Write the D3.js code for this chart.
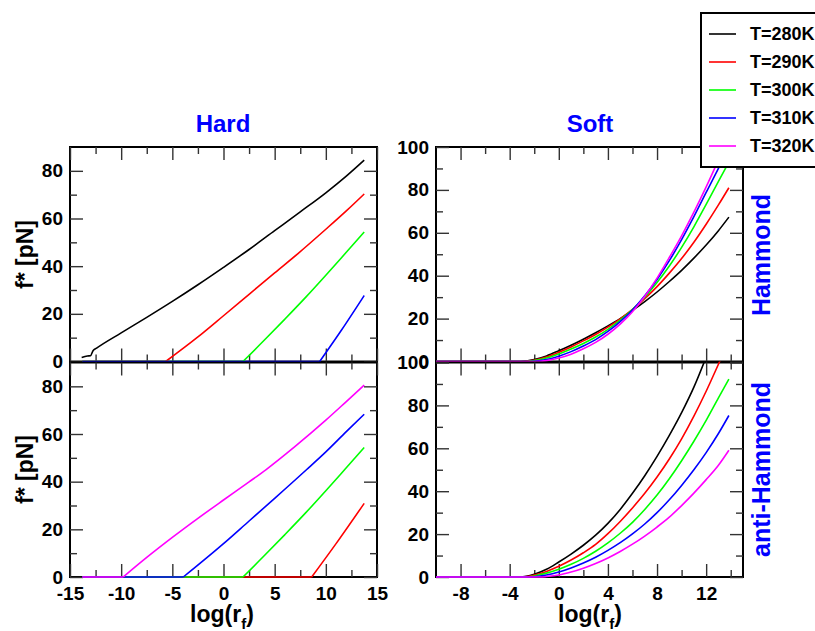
<!DOCTYPE html>
<html>
<head>
<meta charset="utf-8">
<script src="https://cdn.jsdelivr.net/npm/d3@7"></script>
<style>
  body { margin: 0; background: #fff; }
  svg { display: block; }
  text { font-family: "Liberation Sans", Arial, Helvetica, sans-serif; font-weight: bold; }
</style>
</head>
<body>
<svg id="chart" width="815" height="631"></svg>
<script>
// Temperatures shown in the legend and their line colours
const temperatures = ["T=280K", "T=290K", "T=300K", "T=310K", "T=320K"];
const colors = ["#000000", "#ff0000", "#00ff00", "#0000ff", "#ff00ff"];

// Tick values
const hardXTicks = [-15, -10, -5, 0, 5, 10, 15];
const hardXMinor = [-12.5, -7.5, -2.5, 2.5, 7.5, 12.5];
const hardYTicks = [0, 20, 40, 60, 80];
const hardYMinor = [10, 30, 50, 70];
const softXTicks = [-8, -4, 0, 4, 8, 12];
const softXMinor = [-6, -2, 2, 6, 10, 14];
const softYTicks = [0, 20, 40, 60, 80, 100];
const softYMinor = [10, 30, 50, 70, 90];

// Rupture force f* [pN] against log(r_f), one array of [log r_f, f*] per temperature
// Hard potential, Hammond behaviour
const hardHam280 = [[-13.86,1.7],[-13.3,2.3],[-13.0,2.4],[-12.75,4.5],[-12.4,5.6],[-10,12],[-7.5,18.5],[-5,25.2],[-2.5,32.2],[0,39.5],[2.5,47],[5,54.9],[7.5,62.8],[10,70.8],[12,77.8],[13.75,84.5]];
const hardHam290 = [[-13.8,0],[-5.65,0],[-2.5,10.3],[0,19.2],[2.5,28.2],[5,37.2],[7.25,45.2],[10,55.5],[12,63.2],[13.75,70.3]];
const hardHam300 = [[-13.8,0],[1.9,0],[4,9],[6,17.8],[8,26.8],[10,36.2],[11.87,45.2],[13.75,54.3]];
const hardHam310 = [[-13.8,0],[9.4,0],[11.5,13.0],[13.75,27.7]];

// Hard potential, anti-Hammond behaviour
const hardAnti290 = [[-13.8,0],[8.62,0],[11,14.0],[13.75,30.9]];
const hardAnti300 = [[-13.8,0],[1.9,0],[4,9],[6,17.8],[8,26.8],[10,36.2],[11.87,45.2],[13.75,54.3]];
const hardAnti310 = [[-13.8,0],[-3.93,0],[0,14],[2.5,23.5],[5,33],[8.13,45.1],[10,52.5],[12,61],[13.75,68.3]];
const hardAnti320 = [[-13.8,0],[-9.8,0],[-7.5,8.2],[-5,16.6],[-2.5,24.6],[0,32.3],[2.5,39.9],[4.2,45.2],[7,54.8],[10,65.8],[12,73.6],[13.75,80.5]];

// Soft potential, Hammond behaviour
const softHam280 = [[-10,0],[-3.1,0],[-2,0.9],[-1,2.6],[0,5.0],[1,7.6],[2,10.4],[3,13.4],[4,16.6],[5,20.0],[6,23.8],[7,27.9],[8,32.4],[9,37.3],[10,42.5],[11,48.2],[12,54.3],[13,61.0],[13.85,67.3]];
const softHam290 = [[-10,0],[-2.8,0],[-2,0.6],[-1,2.1],[0,4.3],[1,6.8],[2,9.6],[3,12.6],[4,16.0],[5,19.9],[6,24.3],[7,29.3],[8,34.9],[9,41.2],[10,48.0],[11,55.6],[12,64.0],[13,73.0],[13.85,81.0]];
const softHam300 = [[-10,0],[-2.6,0],[-2,0.4],[-1,1.6],[0,3.5],[1,5.8],[2,8.4],[3,11.4],[4,15.0],[5,19.3],[6,24.2],[7,30.0],[8,36.8],[9,44.5],[10,53.2],[11,62.8],[12,73.2],[13,84.0],[13.85,93.0]];
const softHam310 = [[-10,0],[-2.3,0],[-2,0.1],[-1,0.9],[0,2.5],[1,4.6],[2,7.2],[3,10.2],[4,14.0],[5,18.6],[6,24.0],[7,30.6],[8,38.2],[9,47.0],[10,56.8],[11,67.5],[12,78.8],[13,90.0],[13.85,100]];
const softHam320 = [[-10,0],[-2.0,0],[-1,0.4],[0,1.6],[1,3.4],[2,5.9],[3,8.9],[4,12.7],[5,17.4],[6,23.2],[7,30.4],[8,38.9],[9,48.5],[10,58.6],[11,69.6],[12,81.4],[13,94.0],[13.85,105]];

// Soft potential, anti-Hammond behaviour
const softAnti280 = [[-10,0],[-3.15,0],[-2,1.3],[-1,3.6],[0,7.0],[1,10.7],[2,14.8],[3,19.5],[4,25.0],[5,31.5],[6,39.0],[7,47.2],[8,56.2],[9,66.0],[10,76.6],[11,88.5],[12,102.5]];
const softAnti290 = [[-10,0],[-2.9,0],[-2,0.9],[-1,2.6],[0,5.0],[1,7.9],[2,11.3],[3,15.2],[4,20.2],[5,25.9],[6,32.2],[7,39.0],[8,46.6],[9,55.0],[10,64.4],[11,75.0],[12,86.6],[13,99.2],[13.3,103]];
const softAnti300 = [[-10,0],[-2.6,0],[-2,0.5],[-1,1.8],[0,3.6],[1,5.9],[2,8.7],[3,12.0],[4,15.9],[5,20.4],[6,25.5],[7,31.5],[8,38.2],[9,45.8],[10,54.2],[11,63.3],[12,73.0],[13,83.5],[13.85,92.3]];
const softAnti310 = [[-10,0],[-2.3,0],[-2,0.1],[-1,0.9],[0,2.3],[1,4.2],[2,6.5],[3,9.2],[4,12.4],[5,16.0],[6,20.1],[7,24.7],[8,30.0],[9,36.0],[10,42.7],[11,50.0],[12,58.0],[13,66.9],[13.85,75.3]];
const softAnti320 = [[-10,0],[-1.5,0],[-1,0.2],[0,0.9],[1,2.3],[2,4.1],[3,6.3],[4,8.9],[5,11.9],[6,15.3],[7,19.1],[8,23.3],[9,27.9],[10,33.3],[11,39.1],[12,45.4],[13,52.1],[13.85,59.1]];

const svg = d3.select("#chart");

const panels = [
  { id: "hardHam", series: [hardHam280, hardHam290, hardHam300, hardHam310, null],
    left: 70, top: 147, width: 307, height: 214.5, xDomain: [-15, 15], yDomain: [0, 90],
    xTicks: hardXTicks, xMinor: hardXMinor, yTicks: hardYTicks, yMinor: hardYMinor, xLabels: false, sharpOnset: true },
  { id: "hardAnti", series: [null, hardAnti290, hardAnti300, hardAnti310, hardAnti320],
    left: 70, top: 362.5, width: 307, height: 214.5, xDomain: [-15, 15], yDomain: [0, 90],
    xTicks: hardXTicks, xMinor: hardXMinor, yTicks: hardYTicks, yMinor: hardYMinor, xLabels: true, sharpOnset: true },
  { id: "softHam", series: [softHam280, softHam290, softHam300, softHam310, softHam320],
    left: 436, top: 147, width: 307, height: 214.5, xDomain: [-10, 15], yDomain: [0, 100],
    xTicks: softXTicks, xMinor: softXMinor, yTicks: softYTicks, yMinor: softYMinor, xLabels: false, sharpOnset: false },
  { id: "softAnti", series: [softAnti280, softAnti290, softAnti300, softAnti310, softAnti320],
    left: 436, top: 362.5, width: 307, height: 214.5, xDomain: [-10, 15], yDomain: [0, 100],
    xTicks: softXTicks, xMinor: softXMinor, yTicks: softYTicks, yMinor: softYMinor, xLabels: true, sharpOnset: false }
];

function addTicks(g, axis, values, size, translate, showLabels, padding) {
  const a = axis.tickValues(values).tickSize(size).tickPadding(padding || 0)
    .tickFormat(showLabels ? d => String(d) : () => "");
  const ag = g.append("g").attr("transform", translate).call(a);
  ag.select(".domain").remove();
  ag.selectAll("line").attr("stroke", "#333").attr("stroke-width", 1.4);
  ag.selectAll("text").attr("fill", "#000").style("font-size", "19px");
  return ag;
}

panels.forEach(p => {
  const x = d3.scaleLinear().domain(p.xDomain).range([p.left, p.left + p.width]);
  const y = d3.scaleLinear().domain(p.yDomain).range([p.top + p.height, p.top]);
  const bottom = p.top + p.height;
  const right = p.left + p.width;
  const g = svg.append("g");

  g.append("clipPath").attr("id", "clip-" + p.id).append("rect")
    .attr("x", p.left).attr("y", p.top - 1).attr("width", p.width).attr("height", p.height + 2);

  // panel frame
  g.append("rect").attr("x", p.left).attr("y", p.top).attr("width", p.width).attr("height", p.height)
    .attr("fill", "none").attr("stroke", "#000").attr("stroke-width", 2);

  // inward major and minor ticks on all four sides
  addTicks(g, d3.axisBottom(x), p.xTicks, -13, `translate(0,${bottom})`, p.xLabels, 10);
  addTicks(g, d3.axisBottom(x), p.xMinor, -7, `translate(0,${bottom})`, false);
  addTicks(g, d3.axisTop(x), p.xTicks, -13, `translate(0,${p.top})`, false);
  addTicks(g, d3.axisTop(x), p.xMinor, -7, `translate(0,${p.top})`, false);
  addTicks(g, d3.axisLeft(y), p.yTicks, -13, `translate(${p.left},0)`, true, 7);
  addTicks(g, d3.axisLeft(y), p.yMinor, -7, `translate(${p.left},0)`, false);
  addTicks(g, d3.axisRight(y), p.yTicks, -13, `translate(${right},0)`, false);
  addTicks(g, d3.axisRight(y), p.yMinor, -7, `translate(${right},0)`, false);

  const smooth = d3.line().x(d => x(d[0])).y(d => y(d[1])).curve(d3.curveMonotoneX);
  const straight = d3.line().x(d => x(d[0])).y(d => y(d[1]));
  const lines = g.append("g").attr("clip-path", `url(#clip-${p.id})`);
  p.series.forEach((s, i) => {
    if (!s) return;
    // the flat f* = 0 stretch and the rising branch are drawn as two pieces
    // so that the onset keeps its corner where the force switches on
    let k = 0;
    while (p.sharpOnset && k + 1 < s.length && s[k + 1][1] === 0) k++;
    const pieces = (p.sharpOnset && k > 0) ? [[s.slice(0, k + 1), straight], [s.slice(k), smooth]] : [[s, smooth]];
    pieces.forEach(([pts, gen]) => {
      lines.append("path").datum(pts).attr("d", gen)
        .attr("fill", "none").attr("stroke", colors[i]).attr("stroke-width", 1.6)
        .attr("stroke-linejoin", "round");
    });
  });
});

// column titles
svg.append("text").attr("x", 223).attr("y", 132).attr("text-anchor", "middle")
  .attr("fill", "#0000ff").style("font-size", "24px").text("Hard");
svg.append("text").attr("x", 590).attr("y", 132).attr("text-anchor", "middle")
  .attr("fill", "#0000ff").style("font-size", "24px").text("Soft");

// row titles on the right
[["Hammond", 255], ["anti-Hammond", 469.5]].forEach(([t, cy]) => {
  svg.append("text").attr("transform", `translate(770,${cy}) rotate(-90)`)
    .attr("text-anchor", "middle").attr("fill", "#0000ff").style("font-size", "25px").text(t);
});

// y axis titles
[254.5, 469.5].forEach(cy => {
  svg.append("text").attr("transform", `translate(32.5,${cy}) rotate(-90)`)
    .attr("text-anchor", "middle").attr("fill", "#000").style("font-size", "23px").text("f* [pN]");
});

// x axis titles with subscript
[222, 590].forEach(cx => {
  const t = svg.append("text").attr("x", cx).attr("y", 622).attr("text-anchor", "middle")
    .attr("fill", "#000").style("font-size", "23px");
  t.append("tspan").text("log(r");
  t.append("tspan").attr("dy", 7).style("font-size", "15px").text("f");
  t.append("tspan").attr("dy", -7).text(")");
});

// legend
const legend = svg.append("g");
legend.append("rect").attr("x", 701).attr("y", 13).attr("width", 140).attr("height", 154)
  .attr("fill", "#fff").attr("stroke", "#000").attr("stroke-width", 2);
temperatures.forEach((t, i) => {
  const ly = 34 + i * 28;
  legend.append("line").attr("x1", 709).attr("x2", 736).attr("y1", ly).attr("y2", ly)
    .attr("stroke", colors[i]).attr("stroke-width", 1.6);
  legend.append("text").attr("x", 750).attr("y", ly).attr("dy", "0.35em")
    .attr("fill", "#000").style("font-size", "18px").text(t);
});
</script>
</body>
</html>
